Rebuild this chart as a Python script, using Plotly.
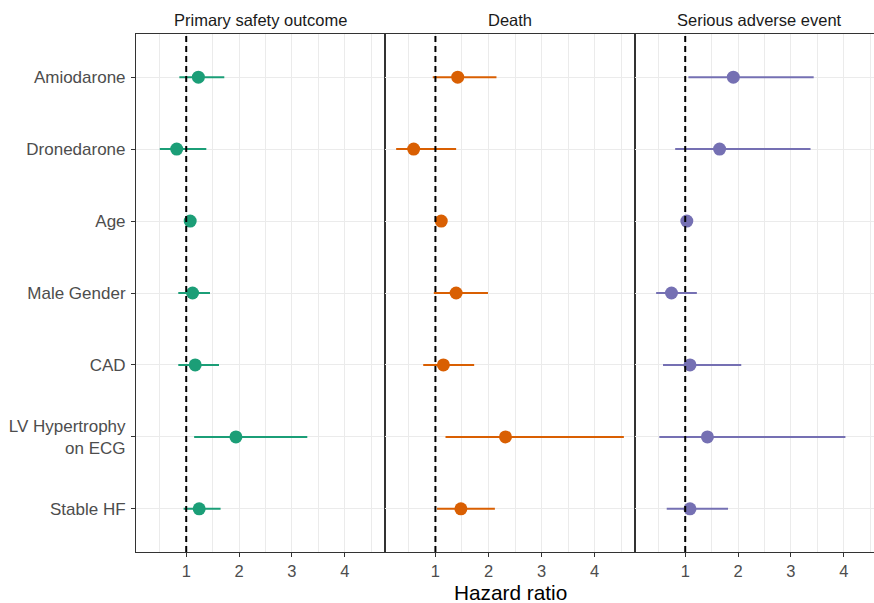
import plotly.graph_objects as go

# ---- data ----
variables = ["Amiodarone", "Dronedarone", "Age", "Male Gender", "CAD",
             "LV Hypertrophy<br>on ECG", "Stable HF"]
outcomes = ["Primary safety outcome", "Death", "Serious adverse event"]

hr_primary = [1.23, 0.82, 1.075, 1.12, 1.17, 1.94, 1.245]
lo_primary = [0.87, 0.50, 1.05, 0.85, 0.85, 1.15, 0.95]
hi_primary = [1.72, 1.38, 1.10, 1.45, 1.62, 3.29, 1.65]

hr_death = [1.42, 0.59, 1.11, 1.39, 1.15, 2.32, 1.48]
lo_death = [0.95, 0.26, 1.08, 0.97, 0.77, 1.19, 1.03]
hi_death = [2.15, 1.39, 1.14, 1.99, 1.73, 4.55, 2.12]

hr_sae = [1.91, 1.65, 1.03, 0.74, 1.09, 1.42, 1.09]
lo_sae = [1.06, 0.81, 1.00, 0.45, 0.58, 0.51, 0.65]
hi_sae = [3.43, 3.37, 1.06, 1.22, 2.06, 4.03, 1.81]

colors = ["#1B9E77", "#D95F02", "#7570B3"]
x_ticks = [1, 2, 3, 4]
x_minor = [0.5, 1.5, 2.5, 3.5, 4.5]

# ---- layout geometry ----
W, H = 874, 603
ML, MR, MT, MB = 136, 0, 34, 51
PW = W - ML - MR
PH = H - MT - MB
panel_px = [(136, 385), (385, 635), (635, 874)]
full_right3 = 884  # panel 3 is cropped in the reference
x0 = 0.05
ppu = 249 / (4.76 - x0)
ranges = [[x0, 4.76], [x0, 4.76], [x0, x0 + (874 - 635) / ppu]]

font_fam = "Liberation Sans, Arial, sans-serif"
grid_col = "#EBEBEB"
border_col = "#333333"

fig = go.Figure()
series = [(hr_primary, lo_primary, hi_primary),
          (hr_death, lo_death, hi_death),
          (hr_sae, lo_sae, hi_sae)]

for i, (hr, lo, hi) in enumerate(series):
    sfx = "" if i == 0 else str(i + 1)
    fig.add_trace(go.Scatter(
        x=hr, y=variables, mode="markers",
        marker=dict(color=colors[i], size=13, line=dict(width=0)),
        error_x=dict(type="data", symmetric=False,
                     array=[h - p for h, p in zip(hi, hr)],
                     arrayminus=[p - l for p, l in zip(hr, lo)],
                     color=colors[i], thickness=2, width=0),
        xaxis="x" + sfx, yaxis="y" + sfx, showlegend=False,
        name=outcomes[i]))

layout = dict(
    width=W, height=H,
    margin=dict(l=ML, r=MR, t=MT, b=MB, pad=0),
    paper_bgcolor="white", plot_bgcolor="white",
    font=dict(family=font_fam, color="#4D4D4D", size=16.5),
    showlegend=False,
)

for i in range(3):
    sfx = "" if i == 0 else str(i + 1)
    a, b = panel_px[i]
    dom = [(a - ML) / PW, (b - ML) / PW]
    layout["xaxis" + sfx] = dict(
        domain=dom, range=ranges[i], anchor="y" + sfx,
        tickmode="array", tickvals=x_ticks, ticktext=[str(t) for t in x_ticks],
        ticks="outside", ticklen=4, tickwidth=1.1, tickcolor=border_col,
        showgrid=True, gridcolor=grid_col, gridwidth=1.2,
        minor=dict(tickmode="array", tickvals=x_minor, showgrid=True,
                   gridcolor=grid_col, gridwidth=0.7, ticks=""),
        showline=True, linecolor=border_col, linewidth=1.1, mirror=True,
        zeroline=False, tickfont=dict(size=16.5, color="#4D4D4D"),
    )
    layout["yaxis" + sfx] = dict(
        domain=[0, 1], anchor="x" + sfx,
        type="category", categoryorder="array", categoryarray=variables,
        range=[6.6, -0.6],
        showticklabels=(i == 0),
        ticks="outside" if i == 0 else "", ticklen=4, tickwidth=1.1,
        tickcolor=border_col, ticklabelstandoff=2,
        showgrid=True, gridcolor=grid_col, gridwidth=1.2,
        showline=True, linecolor=border_col, linewidth=1.1,
        mirror=(i < 2), zeroline=False,
        tickfont=dict(size=17, color="#4D4D4D"),
    )

fig.update_layout(**layout)

# dashed reference line at HR = 1
for i in range(3):
    sfx = "" if i == 0 else str(i + 1)
    fig.add_shape(type="line", xref="x" + sfx, yref="y" + sfx + " domain",
                  x0=1, x1=1, y0=0, y1=1, layer="above",
                  line=dict(color="black", width=2, dash="6px,4px"))

# strip titles
centers = [(136 + 385) / 2, (385 + 635) / 2, (635 + full_right3) / 2]
for i, c in enumerate(centers):
    fig.add_annotation(text=outcomes[i], xref="paper", yref="paper",
                       x=(c - ML) / PW, y=1 + (MT - 20) / PH,
                       xanchor="center", yanchor="middle", showarrow=False,
                       font=dict(size=16.5, color="#1A1A1A", family=font_fam))

# x axis title
fig.add_annotation(text="Hazard ratio", xref="paper", yref="paper",
                   x=((136 + full_right3) / 2 - ML) / PW,
                   y=-(592 - (H - MB)) / PH,
                   xanchor="center", yanchor="middle", showarrow=False,
                   font=dict(size=20.8, color="black", family=font_fam))

fig.write_html("out.html",
               config={"displayModeBar": False},
               post_script="document.body.style.margin='0';"
                           "document.body.style.overflow='hidden';")
